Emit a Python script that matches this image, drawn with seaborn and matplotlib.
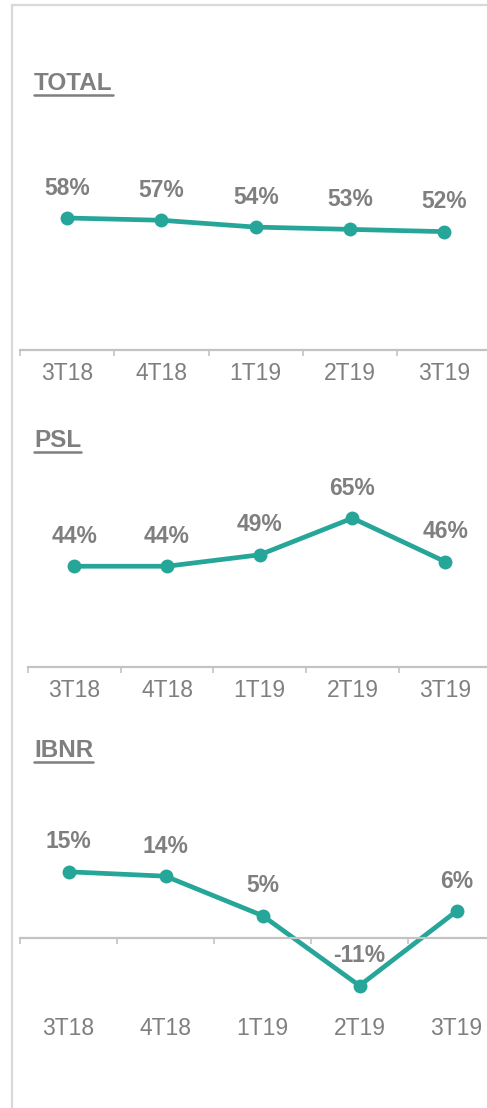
import matplotlib
matplotlib.use("Agg")
import matplotlib.pyplot as plt
from matplotlib.lines import Line2D
import seaborn as sns

# Datos
trimestres = ["3T18", "4T18", "1T19", "2T19", "3T19"]
total = [58, 57, 54, 53, 52]
psl = [44, 44, 49, 65, 46]
ibnr = [15, 14, 5, -11, 6]

TEAL = "#26A599"
GRIS = "#7F7F7F"
EJE = "#C3C3C3"

sns.set_style("white")
plt.rcParams["font.family"] = ["Liberation Sans", "DejaVu Sans"]

W, H = 487, 1108
fig = plt.figure(figsize=(W / 100, H / 100), dpi=100)


def panel(left, zero, ppu, ylo, yhi, step, valores, pad):
    # posiciones en pixeles -> fracciones de figura
    bottom = zero + (-ylo) * ppu
    height = (yhi - ylo) * ppu
    ax = fig.add_axes([left / W, 1 - bottom / H, step * 5 / W, height / H])
    sns.lineplot(x=trimestres, y=valores, ax=ax, color=TEAL, lw=3.4,
                 marker="o", markersize=10, markeredgewidth=0, sort=False)
    ax.set_xlim(-0.5, 4.5)
    ax.set_ylim(ylo, yhi)
    for s in ["top", "right", "left"]:
        ax.spines[s].set_visible(False)
    ax.spines["bottom"].set_position(("data", 0))
    ax.spines["bottom"].set_color(EJE)
    ax.spines["bottom"].set_linewidth(1.6)
    ax.set_yticks([])
    ax.set_xticks(range(5))
    ax.set_xticklabels(trimestres)
    ax.set_xticks([i - 0.5 for i in range(6)], minor=True)
    ax.tick_params(axis="x", which="major", length=0, pad=pad,
                   labelsize=16.5, labelcolor=GRIS)
    ax.tick_params(axis="x", which="minor", length=4, width=1.2,
                   color=EJE, bottom=True)
    ax.set_xlabel("")
    ax.set_ylabel("")
    for i, v in enumerate(valores):
        ax.annotate(f"{v}%", (i, v), xytext=(0, 21.5), textcoords="offset points",
                    ha="center", va="center", fontsize=16.5, fontweight="bold",
                    color=GRIS, annotation_clip=False)
    return ax


panel(20, 350, 2.276, 0, 100, 94.3, total, 8.5)
panel(28, 667, 2.29, 0, 100, 92.7, psl, 8.5)
panel(20, 937.5, 4.38, -17, 25, 97, ibnr, 57.5)

titulos = [("TOTAL", 81), ("PSL", 438), ("IBNR", 748)]
textos = []
for t, y in titulos:
    textos.append(fig.text(34 / W, 1 - y / H, t, fontsize=17.5, fontweight="bold",
                           color=GRIS, ha="left", va="center_baseline"))

# subrayado de los titulos
fig.canvas.draw()
r = fig.canvas.get_renderer()
for txt in textos:
    bb = txt.get_window_extent(r)
    # linea un poco debajo de la linea base
    yl = (bb.y0 + 0.5) / H
    fig.add_artist(Line2D([bb.x0 / W, bb.x1 / W], [yl, yl], color=GRIS, lw=1.8,
                          transform=fig.transFigure))

# marco gris
fig.add_artist(Line2D([12 / W, 12 / W], [0, 1 - 5 / H], color="#D9D9D9", lw=1.6,
                      transform=fig.transFigure))
fig.add_artist(Line2D([12 / W, 1], [1 - 5 / H, 1 - 5 / H], color="#D9D9D9", lw=1.6,
                      transform=fig.transFigure))

fig.savefig("out.png", dpi=100)
